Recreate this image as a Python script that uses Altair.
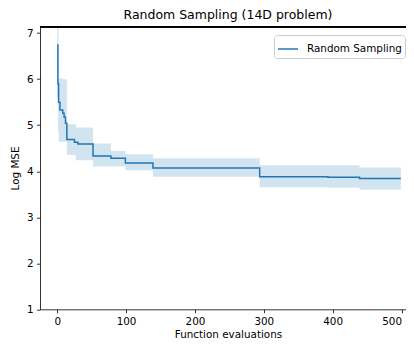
import altair as alt
import pandas as pd

# Data
evals = [0, 1, 2, 4, 8, 10, 12, 14, 25, 27, 30, 52, 78, 99, 139, 294, 393, 439, 499]
log_mse = [6.74, 5.9, 5.5, 5.33, 5.26, 5.17, 5.04, 4.69, 4.63, 4.63, 4.59, 4.33, 4.28, 4.18, 4.07, 3.88, 3.87, 3.84, 3.84]
band_lo = [5.6, 4.9, 4.64, 4.64, 4.64, 4.64, 4.64, 4.35, 4.35, 4.24, 4.24, 4.10, 4.10, 4.02, 3.88, 3.65, 3.64, 3.60, 3.60]
band_hi = [7.8, 7.3, 6.02, 6.02, 6.0, 6.0, 6.0, 5.02, 5.02, 4.95, 4.95, 4.60, 4.44, 4.37, 4.28, 4.13, 4.13, 4.08, 4.08]
series_name = "Random Sampling"
x_ticks = [0, 100, 200, 300, 400, 500]
y_ticks = [1, 2, 3, 4, 5, 6, 7]
y_top = 7.14

df = pd.DataFrame({"x": evals, "y": log_mse, "lo": band_lo, "hi": band_hi, "series": series_name})

C0 = "#1f77b4"
FONT = "DejaVu Sans"
xscale = alt.Scale(domain=[-25, 506.5], nice=False, zero=False)
yscale = alt.Scale(domain=[1, y_top], nice=False, zero=False)
xaxis = alt.Axis(values=x_ticks, title="Function evaluations", labelPadding=3.7,
                 titlePadding=3, labelFlush=10, titleX=188)
yaxis = alt.Axis(values=y_ticks, title="Log MSE", labelPadding=3.3, titlePadding=6)

band = alt.Chart(df).mark_area(
    interpolate="step-after", color=C0, opacity=0.2, clip=True
).encode(
    x=alt.X("x:Q", scale=xscale, axis=xaxis),
    y=alt.Y("lo:Q", scale=yscale, axis=yaxis),
    y2="hi:Q",
)

line = alt.Chart(df).mark_line(
    interpolate="step-after", strokeWidth=1.5, clip=True
).encode(
    x=alt.X("x:Q", scale=xscale, axis=xaxis),
    y=alt.Y("y:Q", scale=yscale, axis=yaxis),
    color=alt.Color("series:N",
                    scale=alt.Scale(domain=[series_name], range=[C0]),
                    legend=alt.Legend(
                        orient="none", legendX=234, legendY=8.3, title=None,
                        symbolType="stroke", symbolStrokeWidth=1.5, symbolSize=400,
                        labelFont=FONT, labelFontSize=10.4, labelColor="black",
                        labelOffset=8, padding=3, strokeColor="#cccccc",
                        fillColor="rgba(255,255,255,0.8)", cornerRadius=3)),
)

top_spine = alt.Chart(df).mark_rule(color="black", strokeWidth=0.8).encode(
    y=alt.datum(y_top, scale=yscale, axis=yaxis)
)

chart = alt.layer(band, line, top_spine).properties(
    width=366,
    height=282.6,
    autosize=alt.AutoSizeParams(type="none"),
    padding={"left": 32, "top": 18.7, "right": 0, "bottom": 31.5},
    title=alt.TitleParams("Random Sampling (14D problem)", font=FONT, fontSize=12.5,
                          fontWeight="normal", color="black", offset=5,
                          anchor="middle", dx=5),
).configure_view(stroke=None).configure_axis(
    labelFont=FONT, labelFontSize=10.4, labelColor="black",
    titleFont=FONT, titleFontSize=10.4, titleFontWeight="normal", titleColor="black",
    tickColor="black", tickSize=3.5, tickWidth=0.8,
    domainColor="black", domainWidth=0.8, grid=False,
)

chart.save("out.html", embed_options={"renderer": "svg", "actions": False})
